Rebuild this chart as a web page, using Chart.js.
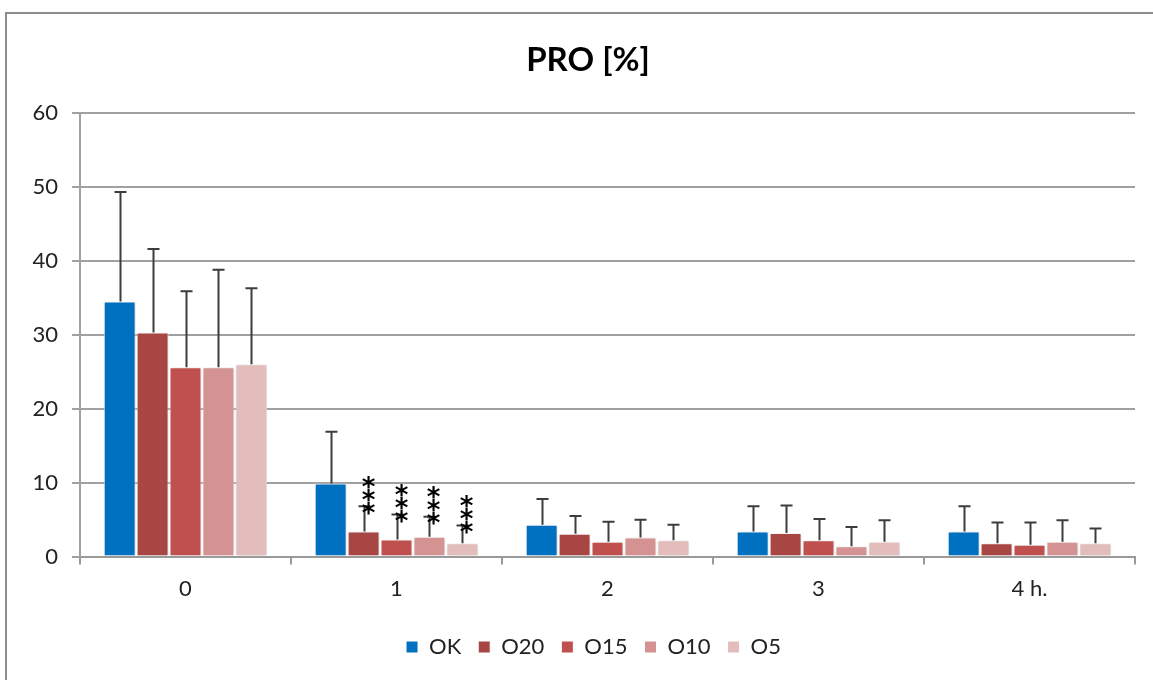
<!DOCTYPE html>
<html>
<head>
<meta charset="utf-8">
<script src="https://cdn.jsdelivr.net/npm/chart.js@4/dist/chart.umd.min.js"></script>
<style>
  html, body { margin: 0; padding: 0; background: #fff; }
  #wrap { position: relative; width: 1153px; height: 680px; }
  #frame { position: absolute; left: 5px; top: 12px; width: 1160px; height: 700px;
           border-top: 2px solid #8c8c8c; border-left: 2px solid #8c8c8c; }
  canvas { position: absolute; left: 0; top: 0; }
</style>
</head>
<body>
<div id="wrap">
  <div id="frame"></div>
  <canvas id="chart" width="1153" height="680"></canvas>
</div>
<script>
const chartTitle = 'PRO [%]';
const categories = ['0', '1', '2', '3', '4 h.'];
const seriesNames = ['OK', 'O20', 'O15', 'O10', 'O5'];
const colors = ['#0070c0', '#a84643', '#c0504d', '#d49392', '#e3bcbc'];

// mean values
const valOK  = [34.5, 9.9, 4.3, 3.4, 3.4];
const valO20 = [30.3, 3.4, 3.1, 3.2, 1.8];
const valO15 = [25.6, 2.3, 2.0, 2.2, 1.6];
const valO10 = [25.6, 2.7, 2.6, 1.4, 2.0];
const valO5  = [26.0, 1.8, 2.2, 2.0, 1.8];

// upper error (SD)
const errOK  = [14.8, 7.0, 3.5, 3.4, 3.4];
const errO20 = [11.3, 3.4, 2.4, 3.7, 2.8];
const errO15 = [10.3, 3.4, 2.7, 2.9, 3.0];
const errO10 = [13.2, 2.7, 2.4, 2.6, 2.9];
const errO5  = [10.3, 2.4, 2.1, 2.9, 2.0];

// significance marks
const sigOK  = ['', '', '', '', ''];
const sigO20 = ['', '***', '', '', ''];
const sigO15 = ['', '***', '', '', ''];
const sigO10 = ['', '***', '', '', ''];
const sigO5  = ['', '***', '', '', ''];

const yTicks = [0, 10, 20, 30, 40, 50, 60];

const values = [valOK, valO20, valO15, valO10, valO5];
const errors = [errOK, errO20, errO15, errO10, errO5];
const sigs = [sigOK, sigO20, sigO15, sigO10, sigO5];

const FONT = 'Lato, "Open Sans", sans-serif';

const datasets = seriesNames.map((name, i) => ({
    label: name,
    data: values[i],
    backgroundColor: colors[i],
    borderColor: '#ffffff',
    borderWidth: 1,
    categoryPercentage: 0.78,
    barPercentage: 0.97
}));

// light shadow behind bars, like the office chart
const shadowPlugin = {
    id: 'shadow',
    beforeDatasetsDraw(chart) {
        const ctx = chart.ctx;
        ctx.save();
        ctx.shadowColor = 'rgba(0,0,0,0.18)';
        ctx.shadowBlur = 5;
        ctx.shadowOffsetX = 1;
        ctx.shadowOffsetY = 1;
    },
    afterDatasetsDraw(chart) {
        chart.ctx.restore();
    }
};

// upper error bars + stars
const errorPlugin = {
    id: 'errorBars',
    afterDatasetsDraw(chart) {
        const ctx = chart.ctx;
        const y = chart.scales.y;
        ctx.save();
        ctx.strokeStyle = '#3c3c3c';
        ctx.lineWidth = 2;
        chart.data.datasets.forEach((ds, di) => {
            const meta = chart.getDatasetMeta(di);
            meta.data.forEach((bar, i) => {
                const top = y.getPixelForValue(ds.data[i] + errors[di][i]);
                const x = Math.round(bar.x) + 0.5;
                ctx.beginPath();
                ctx.moveTo(x, bar.y);
                ctx.lineTo(x, top);
                ctx.moveTo(x - 6, top);
                ctx.lineTo(x + 6, top);
                ctx.stroke();

                const s = sigs[di][i];
                if (s) {
                    ctx.fillStyle = '#000';
                    ctx.font = 'bold 26px "DejaVu Sans", sans-serif';
                    ctx.textAlign = 'center';
                    ctx.textBaseline = 'middle';
                    for (let k = 0; k < s.length; k++) {
                        ctx.fillText('*', x + 4, top + 9 - k * 13);
                    }
                }
            });
        });
        ctx.restore();
    }
};

// title is a bit right of canvas centre in the original, and so is the legend
const titlePlugin = {
    id: 'offTitle',
    afterLayout(chart) {
        chart.legend.left += 21;
        chart.legend.right += 21;
    },
    afterDraw(chart) {
        const ctx = chart.ctx;
        ctx.save();
        ctx.fillStyle = '#000';
        ctx.font = 'bold 33px ' + FONT;
        ctx.textAlign = 'center';
        ctx.textBaseline = 'middle';
        ctx.fillText(chartTitle, 588, 60);
        ctx.restore();
    }
};

new Chart(document.getElementById('chart'), {
    type: 'bar',
    data: { labels: categories, datasets: datasets },
    plugins: [shadowPlugin, errorPlugin, titlePlugin],
    options: {
        responsive: false,
        animation: false,
        layout: { padding: { left: 10, right: 18, top: 113, bottom: 12 } },
        plugins: {
            title: { display: false },
            legend: {
                position: 'bottom',
                labels: {
                    color: '#222',
                    font: { family: FONT, size: 22 },
                    boxWidth: 12,
                    boxHeight: 12,
                    padding: 17,
                    useBorderRadius: false
                }
            },
            tooltip: { enabled: false }
        },
        scales: {
            x: {
                afterFit(scale) { scale.height += 6; },
                grid: { offset: true, drawOnChartArea: false, drawTicks: true, tickLength: 8, color: '#9a9a9a', lineWidth: 2 },
                border: { display: true, color: '#9a9a9a', width: 2 },
                ticks: { color: '#222', font: { family: FONT, size: 22 }, padding: 11 }
            },
            y: {
                min: 0,
                max: 60,
                afterBuildTicks(scale) { scale.ticks = yTicks.map(v => ({ value: v })); },
                afterFit(scale) { scale.width = 70; },
                grid: { color: '#a0a0a0', lineWidth: 2, tickLength: 8 },
                border: { display: true, color: '#a0a0a0', width: 2 },
                ticks: { color: '#222', font: { family: FONT, size: 22 }, padding: 14 }
            }
        }
    }
});
</script>
</body>
</html>
